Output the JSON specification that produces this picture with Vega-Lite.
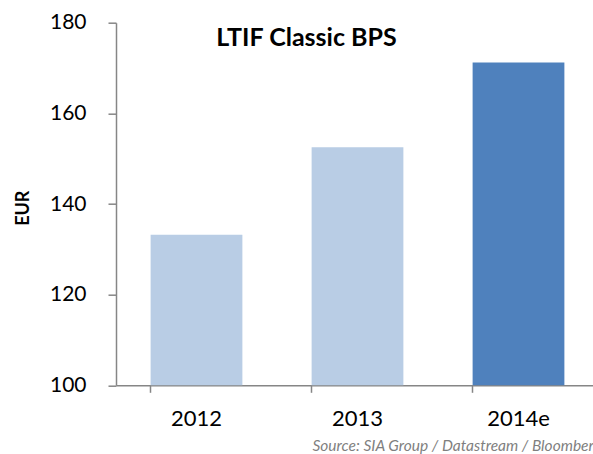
{
  "$schema": "https://vega.github.io/schema/vega-lite/v6.json",
  "autosize": "none",
  "width": 483,
  "height": 362.6,
  "padding": {"left": 116, "top": 22.7, "right": 0, "bottom": 68.7},
  "background": "white",
  "config": {"view": {"stroke": null}, "font": "Lato"},
  "title": {
    "text": "LTIF Classic BPS",
    "font": "Lato",
    "fontSize": 25,
    "fontWeight": "bold",
    "color": "#000000",
    "anchor": "middle",
    "frame": "group",
    "baseline": "alphabetic",
    "offset": -59,
    "dx": -51
  },
  "data": {
    "values": [
      {"year": "2012", "bps": 133.2},
      {"year": "2013", "bps": 152.5},
      {"year": "2014e", "bps": 171.2}
    ]
  },
  "mark": {"type": "bar"},
  "encoding": {
    "x": {
      "field": "year",
      "type": "nominal",
      "sort": null,
      "scale": {"paddingInner": 0.43, "paddingOuter": 0.215},
      "axis": {
        "title": "Source: SIA Group / Datastream / Bloomberg",
        "titleFont": "Lato",
        "titleFontStyle": "italic",
        "titleFontWeight": "normal",
        "titleFontSize": 15.5,
        "titleColor": "#7F7F7F",
        "titleAlign": "left",
        "titleBaseline": "alphabetic",
        "titleX": 196,
        "titleY": 65,
        "labelAngle": 0,
        "labelFontSize": 22,
        "labelColor": "#000000",
        "labelPadding": 16,
        "bandPosition": 0,
        "tickSize": 7,
        "tickColor": "#868686",
        "domainColor": "#868686",
        "domainWidth": 1.5,
        "tickWidth": 1.5
      }
    },
    "y": {
      "field": "bps",
      "type": "quantitative",
      "scale": {"domain": [100, 180], "zero": false, "nice": false},
      "axis": {
        "title": "EUR",
        "titleFont": "Lato",
        "titleFontSize": 18,
        "titleFontWeight": "bold",
        "titleColor": "#000000",
        "titleAngle": -90,
        "titleBaseline": "middle",
        "titleAlign": "center",
        "titleX": -92.5,
        "titleY": 185,
        "values": [100, 120, 140, 160, 180],
        "grid": false,
        "labelFontSize": 21,
        "labelColor": "#000000",
        "labelPadding": 22,
        "tickSize": 8,
        "tickColor": "#868686",
        "domainColor": "#868686",
        "domainWidth": 1.5,
        "tickWidth": 1.5
      }
    },
    "y2": {"datum": 100},
    "color": {
      "field": "year",
      "type": "nominal",
      "scale": {"domain": ["2012", "2013", "2014e"], "range": ["#B9CDE5", "#B9CDE5", "#4F81BD"]},
      "legend": null
    }
  }
}
